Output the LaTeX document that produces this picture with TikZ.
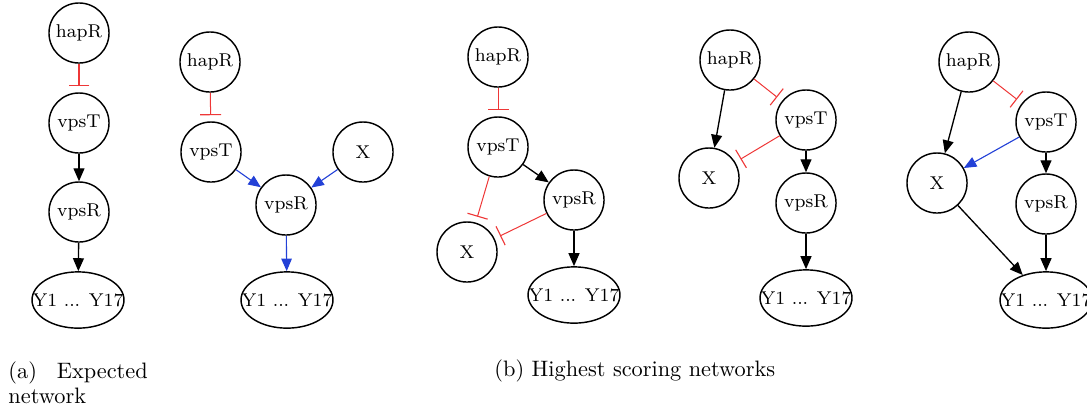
\documentclass[tikz,border=0pt]{standalone}
\usetikzlibrary{arrows.meta,shapes.geometric}
\definecolor{inhred}{RGB}{238,55,55}
\definecolor{actblue}{RGB}{35,65,215}
\newcommand{\ytext}{\makebox[0pt]{Y1 ... Y17}}
\tikzset{
  gene/.style={circle,draw,line width=0.65pt,minimum size=26.9pt,inner sep=0pt,font=\fontsize{8.3}{10}\selectfont},
  outs/.style={ellipse,draw,line width=0.65pt,minimum width=41.2pt,minimum height=25.2pt,inner sep=0pt,font=\fontsize{8.3}{10}\selectfont},
  act/.style={-{Triangle[length=5.8pt,width=4.9pt]},line width=0.6pt},
  actb/.style={-{Triangle[length=5.6pt,width=4.7pt]},actblue,line width=0.5pt},
  inh/.style={-{Bar[width=9.4pt,line width=0.5pt]},inhred,line width=0.45pt,shorten >=2.7pt},
  capt/.style={inner sep=0pt,font=\fontsize{10}{11.2}\selectfont}
}
\begin{document}
\begin{tikzpicture}[x=0.448pt,y=-0.448pt]
\useasboundingbox (0,0) rectangle (1087,409);
% (a) expected network
\node[gene] (a1h) at (79,33) {hapR};
\node[gene] (a1t) at (79,123) {vpsT};
\node[gene] (a1r) at (79,212) {vpsR};
\node[outs] (a1y) at (78,300) {\ytext};
\draw[inh] (a1h) -- (a1t);
\draw[act] (a1t) -- (a1r);
\draw[act] (a1r) -- (a1y);
% (a) second
\node[gene] (a2h) at (210,62) {hapR};
\node[gene] (a2t) at (211,152) {vpsT};
\node[gene] (a2x) at (363,152) {X};
\node[gene] (a2r) at (286,205) {vpsR};
\node[outs] (a2y) at (287,300) {\ytext};
\draw[inh] (a2h) -- (a2t);
\draw[actb] (a2t) -- (a2r);
\draw[actb] (a2x) -- (a2r);
\draw[actb] (a2r) -- (a2y);
% (b) first
\node[gene] (b1h) at (498,57) {hapR};
\node[gene] (b1t) at (498,147) {vpsT};
\node[gene] (b1r) at (574,200) {vpsR};
\node[gene] (b1x) at (467,252) {X};
\node[outs] (b1y) at (574,295) {\ytext};
\draw[inh] (b1h) -- (b1t);
\draw[act] (b1t) -- (b1r);
\draw[inh] (b1t) -- (b1x);
\draw[inh] (b1r) -- (b1x);
\draw[act] (b1r) -- (b1y);
% (b) second
\node[gene] (b2h) at (730,60) {hapR};
\node[gene] (b2t) at (806,120) {vpsT};
\node[gene] (b2x) at (709,178) {X};
\node[gene] (b2r) at (806,203) {vpsR};
\node[outs] (b2y) at (806,298) {\ytext};
\draw[act] (b2h) -- (b2x);
\draw[inh] (b2h) -- (b2t);
\draw[inh] (b2t) -- (b2x);
\draw[act] (b2t) -- (b2r);
\draw[act] (b2r) -- (b2y);
% (b) third
\node[gene] (b3h) at (969,62) {hapR};
\node[gene] (b3t) at (1046,122) {vpsT};
\node[gene] (b3x) at (937,183) {X};
\node[gene] (b3r) at (1046,204) {vpsR};
\node[outs] (b3y) at (1046,300) {\ytext};
\draw[act] (b3h) -- (b3x);
\draw[inh] (b3h) -- (b3t);
\draw[actb] (b3t) -- (b3x);
\draw[act] (b3t) -- (b3r);
\draw[act] (b3r) -- (b3y);
\draw[act] (b3x) -- (b3y);
% captions
\node[capt,anchor=north west,align=left] (capa) at (8,361.5) {(a)\hspace{8.9pt}Expected\\network};
\node[capt,anchor=base west] (capb) at (494,376) {(b) Highest scoring networks};
\end{tikzpicture}
\end{document}
